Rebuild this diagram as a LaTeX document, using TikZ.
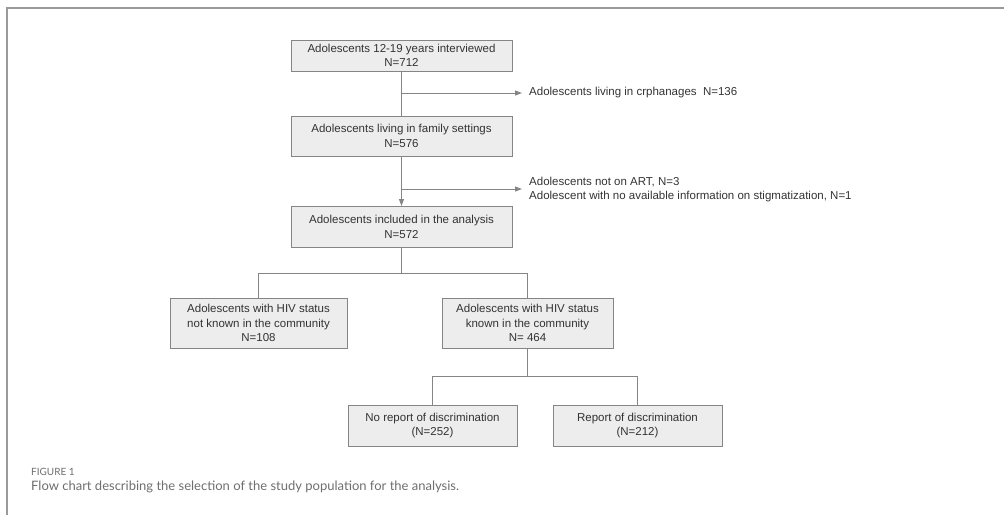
\documentclass[tikz,border=0pt]{standalone}
\usepackage{fontspec}
\setmainfont{Liberation Sans}
\newfontfamily\capfont{Lato}
\definecolor{boxfill}{HTML}{EDEDED}
\definecolor{boxline}{HTML}{858585}
\definecolor{ink}{HTML}{333333}
\definecolor{frame}{HTML}{9A9A9A}
\definecolor{captxt}{HTML}{6E6E6E}
\usetikzlibrary{arrows.meta,positioning}

\begin{document}
\begin{tikzpicture}[
    x=1pt, y=-1pt,
    >={Triangle[length=7pt,width=5pt]},
    font=\fontsize{11.5}{14.5}\selectfont,
    stage/.style={draw=boxline, fill=boxfill, line width=1pt,
                  inner sep=0pt, align=center, text=ink,
                  minimum width=221pt, minimum height=40pt},
    side/.style={anchor=west, align=left, text=ink, inner sep=0pt},
    e/.style={draw=boxline, line width=1pt},
    ea/.style={e, ->, boxline},
  ]
    \useasboundingbox (0,0) rectangle (1004,515);
    % --- frame ------------------------------------------------------------
    \draw[frame, line width=2pt] (7,515) -- (7,7.5) -- (1004,7.5);
    % --- main column -------------------------------------------------------
    \node[stage, minimum height=31pt] (intv) at (401.5,55.5)
          {Adolescents 12-19 years interviewed\\N=712};
    \node[stage] (fam)  at (401.5,136)
          {Adolescents living in family settings\\N=576};
    \node[stage, minimum height=41pt] (incl) at (401.5,227)
          {Adolescents included in the analysis\\N=572};
    % --- exclusions --------------------------------------------------------
    \coordinate (j1) at (401.5,93);
    \coordinate (j2) at (401.5,189);
    \node[side] (orph) at (529,93) {Adolescents living in crphanages\ \ N=136};
    \node[side] (noart) at (529,189.5)
          {Adolescents not on ART, N=3\\Adolescent with no available information on stigmatization, N=1};
    % --- HIV status --------------------------------------------------------
    \node[stage, minimum width=177pt, minimum height=50pt] (unkn) at (258.5,323)
          {Adolescents with HIV status\\not known in the community\\N=108};
    \node[stage, minimum width=171pt, minimum height=50pt] (known) at (527.5,323)
          {Adolescents with HIV status\\known in the community\\N= 464};
    % --- discrimination ----------------------------------------------------
    \node[stage, minimum width=169pt, minimum height=41pt] (nodis) at (432.5,425.5)
          {No report of discrimination\\(N=252)};
    \node[stage, minimum width=169pt, minimum height=41pt] (dis) at (637.5,425.5)
          {Report of discrimination\\(N=212)};
    \coordinate (s1) at (401.5,273);
    \coordinate (s2) at (527.5,376);
    % --- edges -------------------------------------------------------------
    \draw[e]  (intv) -- (fam);
    \draw[ea] (j1) -- ([xshift=-7pt]orph.west);
    \draw[ea] (fam) -- (incl);
    \draw[ea] (j2) -- ([xshift=-7pt]noart.west |- j2);
    \draw[e]  (incl) -- (s1) -| (unkn);
    \draw[e]  (s1) -| (known);
    \draw[e]  (known) -- (s2) -| (nodis);
    \draw[e]  (s2) -| (dis);
    % --- caption -----------------------------------------------------------
    \node[anchor=west, inner sep=0pt, text=captxt, font=\capfont\fontsize{10}{11}\selectfont]
          (fig) at (31,472) {FIGURE 1};
    \node[anchor=west, inner sep=0pt, text=captxt, font=\capfont\fontsize{13}{16}\selectfont]
          (cap) at (31,487) {Flow chart describing the selection of the study population for the analysis.};
  \end{tikzpicture}
\end{document}
